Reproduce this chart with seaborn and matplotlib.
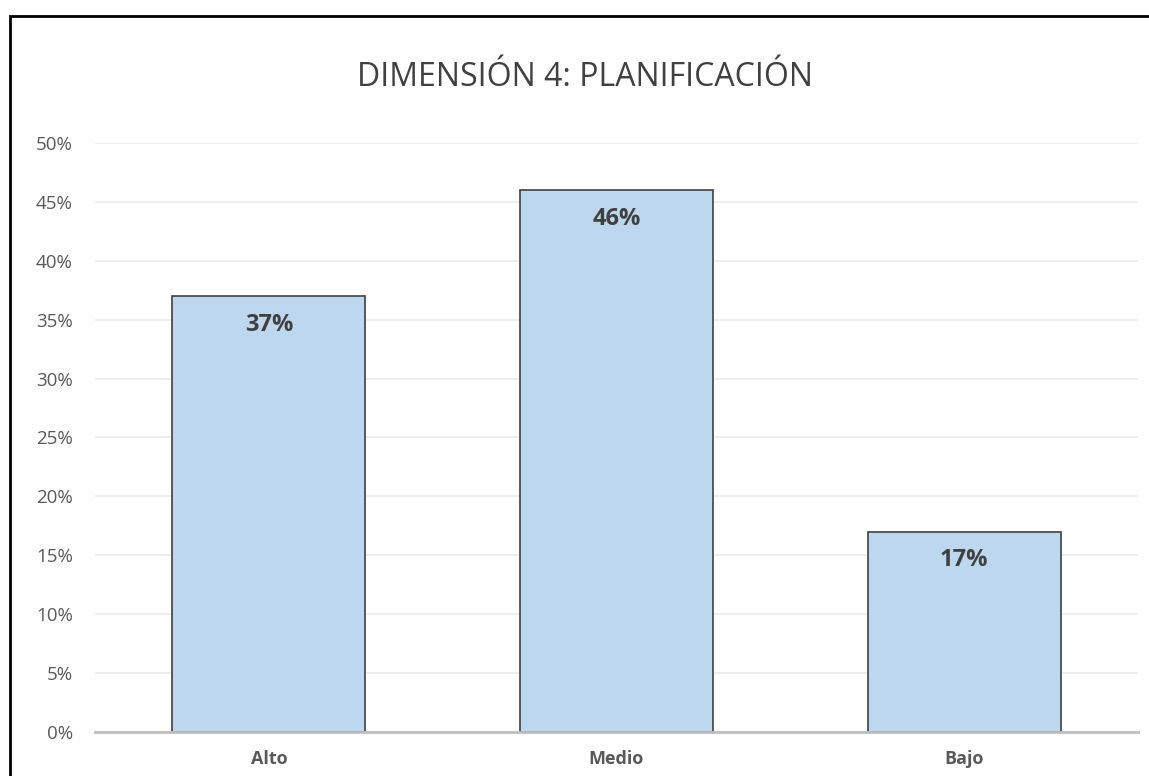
import matplotlib
matplotlib.use("Agg")
import matplotlib.pyplot as plt
import seaborn as sns
import pandas as pd
from matplotlib.patches import Rectangle
from matplotlib.ticker import PercentFormatter, MultipleLocator

# Data
categories = ["Alto", "Medio", "Bajo"]
values = [0.37, 0.46, 0.17]
title = "DIMENSIÓN 4: PLANIFICACIÓN"

df = pd.DataFrame({"nivel": categories, "valor": values})

sns.set_style("white")
plt.rcParams['font.family'] = ['Open Sans', 'DejaVu Sans']

text_color = "#595959"
bar_color = "#BDD7EE"

fig = plt.figure(figsize=(11.49, 7.76), dpi=100)
ax = fig.add_axes([95 / 1149, 1 - 732 / 776, (1138 - 95) / 1149, (732 - 143) / 776])

sns.barplot(data=df, x="nivel", y="valor", color=bar_color, width=0.556,
            edgecolor="#404040", linewidth=1.2, saturation=1, ax=ax)

ax.set_xlim(-0.5, 2.5)
ax.set_ylim(0, 0.5)
ax.yaxis.set_major_locator(MultipleLocator(0.05))
ax.yaxis.set_major_formatter(PercentFormatter(1.0, decimals=0))
ax.grid(axis="y", color="#EBEBEB", linewidth=1.2)
ax.set_axisbelow(True)

for side in ["top", "right", "left"]:
    ax.spines[side].set_visible(False)
ax.spines["bottom"].set_color("#BFBFBF")
ax.spines["bottom"].set_linewidth(2)

ax.set_xlabel("")
ax.set_ylabel("")
ax.tick_params(axis="y", length=0, labelsize=13.5, labelcolor=text_color, pad=16)
ax.tick_params(axis="x", length=0, labelsize=13, labelcolor=text_color, pad=13)
for lbl in ax.get_xticklabels():
    lbl.set_fontweight("bold")

# value labels inside top of bars
for i, v in enumerate(values):
    ax.annotate(f"{v:.0%}", (i, v), xytext=(0, -12), textcoords="offset points",
                ha="center", va="top", fontsize=17, fontweight="bold", color="#404040")

fig.text(585 / 1149, 1 - 77 / 776, title, ha="center", va="center",
         fontsize=23, color="#404040")

# outer chart frame (left and top edges visible)
fig.patches.append(Rectangle((10 / 1149, -0.1), 1.2, 1 - 16 / 776 + 0.1,
                             transform=fig.transFigure, fill=False,
                             edgecolor="black", linewidth=2))

fig.savefig("out.png", dpi=100)
